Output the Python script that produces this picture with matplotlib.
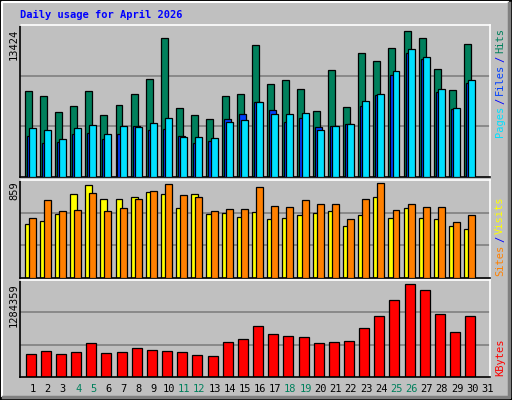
import numpy as np
import matplotlib
matplotlib.use("Agg")
import matplotlib.pyplot as plt

days = np.arange(1, 32)
# values for days 1..30 (day 31 empty)
hits = [7790, 7340, 5910, 6440, 7790, 5640, 6530, 7520, 8860, 12530,
        6260, 5640, 5280, 7340, 7520, 11900, 8420, 8770, 7970, 6000,
        9670, 6350, 11190, 10470, 11640, 13160, 12530, 9750, 7880, 11990]
files = [3700, 3070, 3160, 3880, 3970, 3430, 3880, 4590, 4240, 4330,
         3700, 3070, 3250, 5220, 5670, 6740, 6020, 4950, 5310, 4470,
         4590, 4740, 6440, 7430, 9210, 11180, 10650, 7700, 6110, 8500]
pages = [4410, 4240, 3430, 4410, 4680, 3850, 4560, 4470, 4830, 5370,
         3580, 3580, 3490, 4920, 5100, 6800, 5730, 5730, 5820, 4240,
         4560, 4740, 6890, 7520, 9570, 11540, 10830, 7970, 6260, 8760]
visits = [485, 513, 578, 756, 840, 709, 709, 728, 774, 756,
          634, 756, 578, 588, 551, 597, 532, 541, 569, 588,
          606, 466, 569, 728, 541, 634, 541, 532, 466, 439]
sites = [541, 700, 606, 616, 765, 606, 634, 709, 784, 849,
         746, 728, 606, 625, 625, 821, 653, 644, 700, 672,
         672, 532, 709, 859, 616, 672, 644, 644, 504, 569]
kbytes = [314000, 356000, 314000, 342000, 468000, 328000, 342000, 398000, 370000, 356000,
          342000, 300000, 286000, 483000, 525000, 708000, 595000, 567000, 553000, 468000,
          483000, 497000, 680000, 834000, 1059000, 1284359, 1200000, 862000, 623000, 834000]
weekend = [4, 5, 11, 12, 18, 19, 25, 26]

BG = "#C0C0C0"
GREEN = "#00805C"
W, H = 512, 400

fig = plt.figure(figsize=(W / 100, H / 100), dpi=100, facecolor=BG)
mono = "DejaVu Sans Mono"


def px_axes(x0, y0, x1, y1):
    ax = fig.add_axes([x0 / W, 1 - y1 / H, (x1 - x0) / W, (y1 - y0) / H])
    ax.set_facecolor(BG)
    ax.set_xlim(0, 31)
    ax.set_xticks([])
    ax.set_yticks([])
    for s in ("left", "bottom"):
        ax.spines[s].set_color("black")
    for s in ("top", "right"):
        ax.spines[s].set_color("white")
    for s in ax.spines.values():
        s.set_linewidth(1.2)
    return ax


def grid(ax, top):
    for f in (1 / 3, 2 / 3):
        ax.axhline(top * f, color="#808080", lw=1.2, zorder=0)
    ax.set_ylim(0, top)


x = days[:30] - 1
bw = 0.46

ax1 = px_axes(20, 25, 490, 177)
grid(ax1, 13424 * 1.022)
ax1.bar(x + 0.30, hits, bw, align="edge", color=GREEN, edgecolor="black", lw=0.9, zorder=2)
ax1.bar(x + 0.43, files, bw, align="edge", color="#0040FF", edgecolor="black", lw=0.9, zorder=3)
ax1.bar(x + 0.57, pages, bw, align="edge", color="#00E0FF", edgecolor="black", lw=0.9, zorder=4)

ax2 = px_axes(20, 180, 490, 278)
grid(ax2, 859 * 1.03)
ax2.bar(x + 0.30, visits, bw, align="edge", color="#FFFF00", edgecolor="black", lw=0.9, zorder=2)
ax2.bar(x + 0.57, sites, bw, align="edge", color="#FF8000", edgecolor="black", lw=0.9, zorder=3)

ax3 = px_axes(20, 280, 490, 377)
grid(ax3, 1284359 * 1.04)
ax3.bar(x + 0.37, kbytes, 0.66, align="edge", color="#FF0000", edgecolor="black", lw=0.9, zorder=2)

# day labels
for d in days:
    xf = (20 + (d - 1 + 0.83) * 470 / 31) / W
    fig.text(xf, 1 - 389 / H, str(d), ha="center", va="center", fontsize=7.5,
             family=mono, color=GREEN if d in weekend else "black")

fig.text(20 / W, 1 - 15 / H, "Daily usage for April 2026", ha="left", va="center",
         fontsize=7.5, family=mono, weight="bold", color="#0000FF")

# left max labels
for txt, ytop in (("13424", 29), ("859", 181), ("1284359", 283)):
    fig.text(14 / W, 1 - ytop / H, txt, rotation=90, ha="center", va="top",
             fontsize=7.5, family=mono, color="black")


def right_label(parts, ybottom):
    y = ybottom
    for txt, col in parts:
        fig.text(500 / W, 1 - y / H, txt, rotation=90, ha="center", va="bottom",
                 fontsize=7.5, family=mono, color=col)
        y -= len(txt) * 6.3 + 2


right_label([("Pages", "#00E0FF"), ("/", "#0000FF"), ("Files", "#0040FF"),
             ("/", "#0000FF"), ("Hits", GREEN)], 137)
right_label([("Sites", "#FF8000"), ("/", "#0000FF"), ("Visits", "#FFFF00")], 276)
right_label([("KBytes", "#FF0000")], 376)

# outer bevel border
fig.add_artist(plt.Rectangle((0.5 / W, 0.5 / H), 1 - 1 / W, 1 - 1 / H, transform=fig.transFigure,
                             fill=False, edgecolor="black", lw=1.5))
fig.add_artist(plt.Line2D([2 / W, 2 / W, 1 - 4 / W], [4 / H, 1 - 2 / H, 1 - 2 / H],
                          transform=fig.transFigure, color="white", lw=1.5))
fig.add_artist(plt.Line2D([3 / W, 1 - 3 / W, 1 - 3 / W], [3 / H, 3 / H, 1 - 3 / H],
                          transform=fig.transFigure, color="#808080", lw=2.5))

fig.savefig("out.png", dpi=100, facecolor=BG)
